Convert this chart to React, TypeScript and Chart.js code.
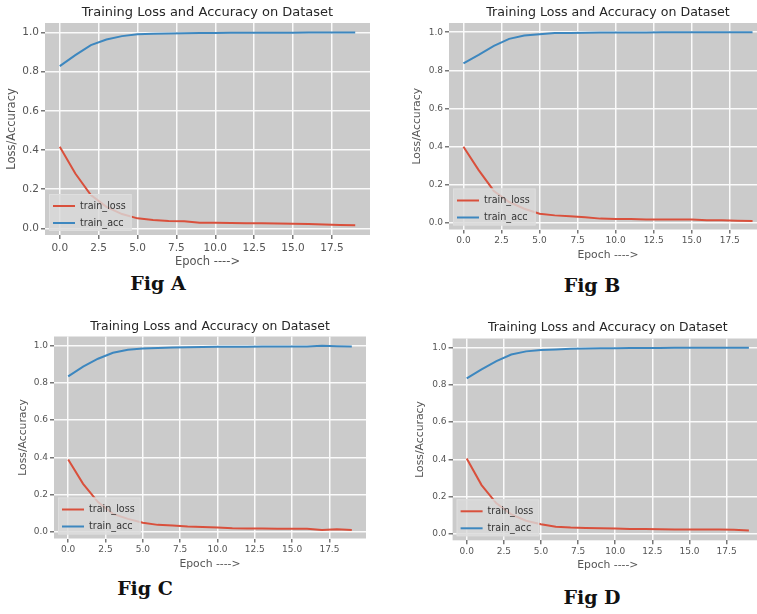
import React, { useEffect, useRef } from 'react';
import { Chart, registerables } from 'chart.js';

Chart.register(...registerables);
Chart.defaults.font.family = "'DejaVu Sans', sans-serif";

// ---------- data ----------
const epochs = [0, 1, 2, 3, 4, 5, 6, 7, 8, 9, 10, 11, 12, 13, 14, 15, 16, 17, 18, 19];

const lossA = [0.417, 0.28, 0.17, 0.11, 0.073, 0.051, 0.043, 0.037, 0.036, 0.029, 0.028, 0.027, 0.026, 0.026, 0.025, 0.024, 0.022, 0.019, 0.017, 0.016];
const accA = [0.828, 0.884, 0.935, 0.964, 0.981, 0.99, 0.993, 0.995, 0.996, 0.997, 0.997, 0.998, 0.998, 0.998, 0.998, 0.998, 0.999, 0.999, 0.999, 0.999];

const lossB = [0.4, 0.277, 0.168, 0.11, 0.075, 0.049, 0.04, 0.035, 0.03, 0.023, 0.021, 0.021, 0.019, 0.018, 0.018, 0.019, 0.014, 0.014, 0.012, 0.011];
const accB = [0.837, 0.881, 0.928, 0.965, 0.982, 0.989, 0.995, 0.996, 0.997, 0.998, 0.998, 0.998, 0.998, 0.999, 0.999, 0.999, 0.999, 0.999, 0.999, 0.999];

const lossC = [0.389, 0.259, 0.161, 0.098, 0.071, 0.05, 0.039, 0.036, 0.03, 0.027, 0.025, 0.021, 0.02, 0.02, 0.018, 0.018, 0.018, 0.012, 0.016, 0.011];
const accC = [0.834, 0.887, 0.929, 0.961, 0.977, 0.984, 0.986, 0.989, 0.991, 0.992, 0.993, 0.993, 0.993, 0.994, 0.994, 0.994, 0.995, 0.998, 0.996, 0.995];

const lossD = [0.405, 0.262, 0.164, 0.105, 0.071, 0.052, 0.039, 0.034, 0.032, 0.03, 0.029, 0.027, 0.026, 0.025, 0.024, 0.024, 0.024, 0.024, 0.022, 0.019];
const accD = [0.834, 0.882, 0.927, 0.962, 0.979, 0.986, 0.989, 0.993, 0.995, 0.996, 0.996, 0.997, 0.997, 0.997, 0.998, 0.998, 0.998, 0.998, 0.998, 0.998];

const xTicks = [0, 2.5, 5, 7.5, 10, 12.5, 15, 17.5];
const yTicks = [0, 0.2, 0.4, 0.6, 0.8, 1.0];
const seriesLabels = ['train_loss', 'train_acc'];
const chartTitle = 'Training Loss and Accuracy on Dataset';
const xAxisTitle = 'Epoch ---->';
const yAxisTitle = 'Loss/Accuracy';
const figLabels = ['Fig A', 'Fig B', 'Fig C', 'Fig D'];

// ---------- layout / style ----------
const RED = '#d9503c';
const BLUE = '#3d87bf';
const X_MIN = -0.95;
const X_MAX = 19.95;
const Y_MIN = -0.034;
const Y_MAX = 1.048;

type PanelCfg = {
  loss: number[];
  acc: number[];
  fig: string;
  L: number; T: number; R: number; B: number;
  titleY: number; yTitleX: number; xTitleY: number;
  canvasRight: number;
  tickFont: number; titleFont: number; axisFont: number; tickPad: number;
  figX: number; figY: number;
};

const panels: PanelCfg[] = [
  { loss: lossA, acc: accA, fig: figLabels[0], L: 45, T: 23, R: 370, B: 235, titleY: 13, yTitleX: 12, xTitleY: 262, canvasRight: 380, tickFont: 10.5, titleFont: 13, axisFont: 11.5, tickPad: 3, figX: 158, figY: 283 },
  { loss: lossB, acc: accB, fig: figLabels[1], L: 449, T: 23, R: 767, B: 229.5, titleY: 13, yTitleX: 417, xTitleY: 255, canvasRight: 767, tickFont: 9, titleFont: 12.6, axisFont: 10.8, tickPad: 2, figX: 592, figY: 285 },
  { loss: lossC, acc: accC, fig: figLabels[2], L: 54, T: 336.5, R: 366, B: 538.5, titleY: 327, yTitleX: 23, xTitleY: 564, canvasRight: 378, tickFont: 9, titleFont: 12.4, axisFont: 10.8, tickPad: 2, figX: 145, figY: 588 },
  { loss: lossD, acc: accD, fig: figLabels[3], L: 452.6, T: 338.5, R: 763, B: 540.3, titleY: 328, yTitleX: 420, xTitleY: 565, canvasRight: 763, tickFont: 9, titleFont: 12.4, axisFont: 10.8, tickPad: 2, figX: 592, figY: 597 },
];

const bgPlugin = {
  id: 'plotBg',
  beforeDraw(chart: any) {
    const { ctx, chartArea } = chart;
    ctx.save();
    ctx.fillStyle = '#cbcbcb';
    ctx.fillRect(chartArea.left, chartArea.top, chartArea.right - chartArea.left, chartArea.bottom - chartArea.top);
    ctx.restore();
  },
};

const makeLegendPlugin = (fontSize: number) => ({
  id: 'boxLegend',
  afterDatasetsDraw(chart: any) {
    const { ctx, chartArea } = chart;
    const items = chart.data.datasets;
    ctx.save();
    ctx.font = `${fontSize}px 'DejaVu Sans'`;
    const textW = Math.max(...items.map((d: any) => ctx.measureText(d.label).width));
    const rowH = 17;
    const w = 31 + textW + 6;
    const h = items.length * rowH + 3;
    const x = chartArea.left + 4;
    const y = chartArea.bottom - 4 - h;
    ctx.globalAlpha = 0.8;
    ctx.fillStyle = '#d9d9d9';
    ctx.fillRect(x, y, w, h);
    ctx.globalAlpha = 1;
    ctx.strokeStyle = '#dedede';
    ctx.lineWidth = 1;
    ctx.strokeRect(x + 0.5, y + 0.5, w - 1, h - 1);
    items.forEach((d: any, i: number) => {
      const cy = y + 12 + i * rowH;
      ctx.strokeStyle = d.borderColor;
      ctx.lineWidth = 2;
      ctx.beginPath();
      ctx.moveTo(x + 4, cy);
      ctx.lineTo(x + 26, cy);
      ctx.stroke();
      ctx.fillStyle = '#333';
      ctx.textBaseline = 'middle';
      ctx.textAlign = 'left';
      ctx.fillText(d.label, x + 31, cy);
    });
    ctx.restore();
  },
});

function Panel({ cfg }: { cfg: PanelCfg }) {
  const ref = useRef<HTMLCanvasElement | null>(null);
  const cl = Math.round(cfg.yTitleX - 7);
  const ct = Math.round(cfg.titleY - 10);
  const cw = Math.round(cfg.canvasRight - cl);
  const ch = Math.round(cfg.xTitleY + 7 - ct);

  useEffect(() => {
    if (!ref.current) return;
    const titleTopPad = cfg.titleY - 8 - ct;
    const titleBottomPad = cfg.T - ct - 16 - titleTopPad;
    const chart = new Chart(ref.current, {
      type: 'line',
      data: {
        datasets: [
          { label: seriesLabels[0], data: epochs.map((e, i) => ({ x: e, y: cfg.loss[i] })), borderColor: RED, backgroundColor: RED, borderWidth: 2, pointRadius: 0, tension: 0 },
          { label: seriesLabels[1], data: epochs.map((e, i) => ({ x: e, y: cfg.acc[i] })), borderColor: BLUE, backgroundColor: BLUE, borderWidth: 2, pointRadius: 0, tension: 0 },
        ],
      },
      options: {
        responsive: false,
        animation: false,
        devicePixelRatio: 1,
        layout: { padding: { left: 0, top: 0, right: cfg.canvasRight - cfg.R, bottom: 0 } },
        plugins: {
          legend: { display: false },
          tooltip: { enabled: false },
          title: {
            display: true,
            text: chartTitle,
            fullSize: false,
            color: '#262626',
            font: { size: cfg.titleFont, weight: 'normal', lineHeight: '16px' },
            padding: { top: titleTopPad, bottom: titleBottomPad },
          },
        },
        scales: {
          x: {
            type: 'linear',
            min: X_MIN,
            max: X_MAX,
            afterBuildTicks: (s: any) => { s.ticks = xTicks.map((v) => ({ value: v })); },
            afterFit: (s: any) => { s.height = ct + ch - cfg.B; },
            ticks: { callback: (v: any) => Number(v).toFixed(1), color: '#555', font: { size: cfg.tickFont }, padding: cfg.tickPad, maxRotation: 0, autoSkip: false },
            grid: { color: '#fafafa', lineWidth: 1.5, tickColor: '#777', tickLength: 4 },
            border: { display: false },
            title: { display: true, text: xAxisTitle, color: '#555', font: { size: cfg.axisFont, lineHeight: '14px' }, padding: 0 },
          },
          y: {
            type: 'linear',
            min: Y_MIN,
            max: Y_MAX,
            afterBuildTicks: (s: any) => { s.ticks = yTicks.map((v) => ({ value: v })); },
            afterFit: (s: any) => { s.width = cfg.L - cl; },
            ticks: { callback: (v: any) => Number(v).toFixed(1), color: '#555', font: { size: cfg.tickFont }, padding: 2 },
            grid: { color: '#fafafa', lineWidth: 1.5, tickColor: '#777', tickLength: 4 },
            border: { display: false },
            title: { display: true, text: yAxisTitle, color: '#555', font: { size: cfg.axisFont, lineHeight: '14px' }, padding: 0 },
          },
        },
      },
      plugins: [bgPlugin, makeLegendPlugin(9.6)],
    } as any);
    return () => chart.destroy();
  }, []);

  return (
    <>
      <canvas
        ref={ref}
        width={cw}
        height={ch}
        style={{ position: 'absolute', left: cl, top: ct, width: cw, height: ch }}
      />
      <div
        style={{
          position: 'absolute',
          left: cfg.figX,
          top: cfg.figY,
          transform: 'translate(-50%, -50%)',
          fontFamily: "'DejaVu Serif', serif",
          fontWeight: 'bold',
          fontSize: 19,
          color: '#111',
          whiteSpace: 'nowrap',
          lineHeight: 1,
        }}
      >
        {cfg.fig}
      </div>
    </>
  );
}

export default function App() {
  return (
    <div style={{ position: 'absolute', left: 0, top: 0, width: 757, height: 614, overflow: 'hidden', background: '#fff' }}>
      {panels.map((p) => (
        <Panel key={p.fig} cfg={p} />
      ))}
    </div>
  );
}
